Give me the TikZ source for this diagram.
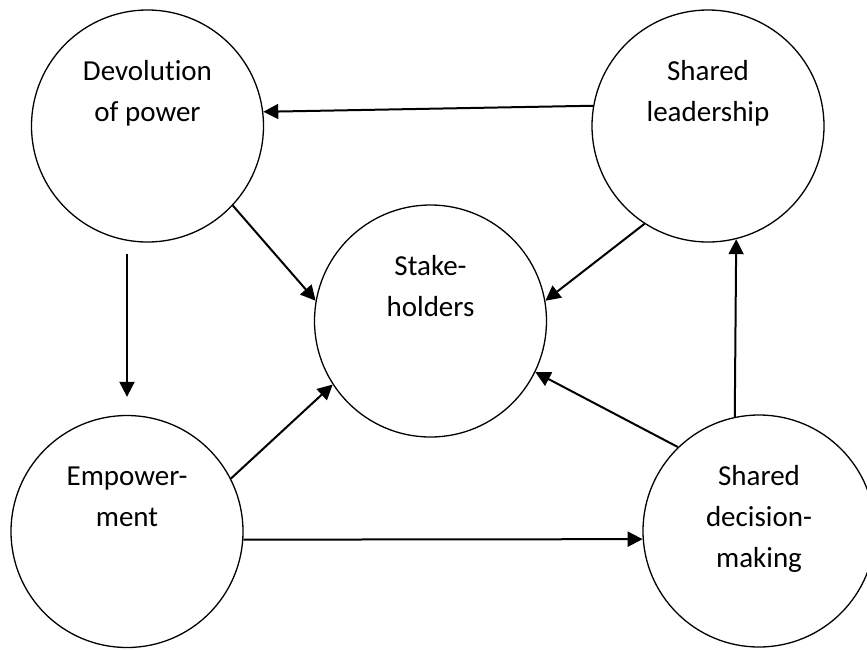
\documentclass[tikz,border=0pt]{standalone}
\usepackage{fontspec}
\setmainfont{Carlito}[Ligatures=CommonOff]
\usetikzlibrary{arrows.meta,calc}
\begin{document}
\begin{tikzpicture}[x=1pt,y=-1pt,
  bub/.style={draw=black,line width=1.3pt,circle,minimum size=232pt,inner sep=0pt},
  lbl/.style={anchor=base,align=center,inner sep=0pt,font=\fontsize{29}{41}\selectfont},
  arr/.style={line width=2pt,-{Triangle[length=15pt,width=15pt]}}]
\clip (0,0) rectangle (867,649);
\fill[white] (0,0) rectangle (867,649);
\node[bub] (dev) at (147.5,126) {};
\node[bub] (sl) at (708,126) {};
\node[bub] (st) at (430.5,321) {};
\node[bub] (emp) at (127,531.5) {};
\node[bub] (sdm) at (759,531) {};
\node[lbl] (devt) at ($(dev.center)+(0,-5)$) {Devolution\\of power};
\node[lbl] (slt) at ($(sl.center)+(0,-5)$) {Shared\\leadership};
\node[lbl] (stt) at ($(st.center)+(0,-5)$) {Stake-\\holders};
\node[lbl] (empt) at ($(emp.center)+(0,-5)$) {Empower-\\ment};
\node[lbl] (sdmt) at ($(sdm.center)+(0,36)$) {Shared\\decision-\\making};
\draw[arr] (sl.170) -- (dev.7);
\draw[arr] (dev.-43) -- (st.170);
\draw[arr] (sl.-123) -- (st.10);
\draw[arr] ([xshift=-20.5pt,yshift=-11pt]dev.south) -- ([yshift=18pt]emp.north);
\draw[arr] (emp.27) -- (st.213);
\draw[arr] (emp.-4) -- (sdm.184);
\draw[arr] (sdm.134) -- (st.-26);
\draw[arr] (sdm.102) -- (sl.-76);
\end{tikzpicture}
\end{document}
